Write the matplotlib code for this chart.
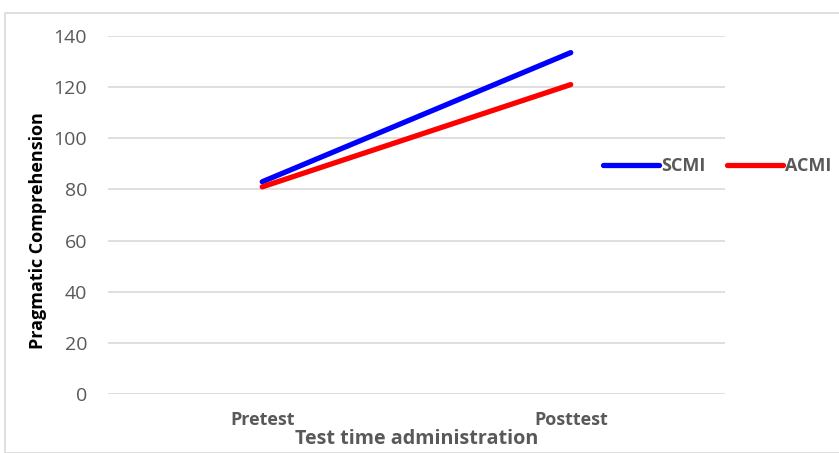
import matplotlib.pyplot as plt
import matplotlib.patches as patches

categories = ['Pretest', 'Posttest']
scmi = [83, 133.5]
acmi = [81, 121]
y_ticks = [0, 20, 40, 60, 80, 100, 120, 140]

gray = '#595959'
sans = ['Open Sans', 'DejaVu Sans']
plt.rcParams['font.family'] = sans

fig = plt.figure(figsize=(8.39, 4.53), dpi=100)
fig.patches.append(patches.Rectangle((5 / 839, 0), 1, 1 - 13 / 453, transform=fig.transFigure,
                                     fill=False, edgecolor='#d9d9d9', linewidth=1.2))

ax = fig.add_axes([108 / 839, 1 - 394 / 453, 617 / 839, 358 / 453])
x = range(len(categories))
ax.plot(x, scmi, color='#0000ff', linewidth=3.8, solid_capstyle='round', label='SCMI')
ax.plot(x, acmi, color='#ff0000', linewidth=3.8, solid_capstyle='round', label='ACMI')

ax.set_xlim(-0.5, 1.5)
ax.set_ylim(0, 140)
ax.set_yticks(y_ticks)
ax.set_yticklabels([str(v) for v in y_ticks], fontsize=14, color=gray)
ax.set_xticks(list(x))
ax.set_xticklabels(categories, fontsize=13, color=gray, weight='bold')
ax.tick_params(axis='both', length=0)
ax.tick_params(axis='y', pad=15)
ax.tick_params(axis='x', pad=12)
ax.grid(axis='y', color='#d9d9d9', linewidth=1.2)
ax.set_axisbelow(True)
for s in ax.spines.values():
    s.set_visible(False)

fig.text(38 / 839, 1 - 231 / 453, 'Pragmatic Comprehension', rotation=90, fontsize=13,
         weight='bold', color='black', ha='center', va='center')
ax.set_xlabel('Test time administration', fontsize=14.2, weight='bold', color=gray,
              labelpad=0)

leg = fig.legend(loc='center left', bbox_to_anchor=(603 / 839, 1 - 166 / 453), ncol=2,
                 frameon=False, borderpad=0, borderaxespad=0, handlelength=3.1,
                 handletextpad=0.1, columnspacing=1.2,
                 prop={'family': sans, 'weight': 'bold', 'size': 13})
for t in leg.get_texts():
    t.set_color(gray)

fig.savefig('out.png', dpi=100)
